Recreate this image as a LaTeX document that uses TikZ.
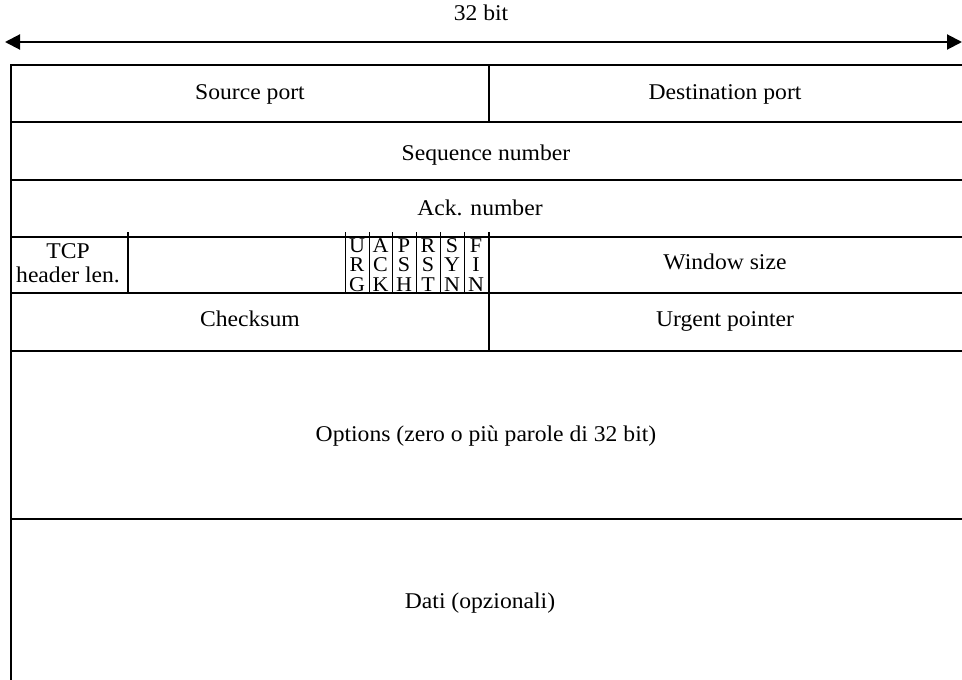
\documentclass[tikz,border=0pt]{standalone}
\usepackage{fontspec}
\setmainfont[FakeStretch=1.05]{Liberation Serif}
\usetikzlibrary{arrows.meta}

\tikzset{
	field/.style={font=\fontsize{22.5}{25}\selectfont, inner sep=0pt, text height=15pt, text depth=5pt},
	twoline/.style={font=\fontsize{22.5}{24}\selectfont, inner sep=0pt, align=center},
	flagtxt/.style={font=\fontsize{21}{19.5}\selectfont, inner sep=0pt, align=center},
	rule/.style={line width=1.3pt},
}

\begin{document}
\begin{tikzpicture}[x=1pt,y=-1pt]
	
	\clip (0,0) rectangle (962,680);
	
	\coordinate (wl) at (5,42);
	\coordinate (wr) at (962,42);
	
	\draw[line width=2pt, {Triangle[length=15pt,width=15pt]}-{Triangle[length=15pt,width=15pt]}] (wl) -- (wr);
	\node[field] (wbit) at (481,15) {32 bit};
	
	% frame
	\draw[rule] (11,700) -- (11,65) -- (990,65);
	\foreach \y in {122,180,237,293,351,519}
		\draw[rule] (11,\y) -- (990,\y);
	\draw[rule] (489,65) -- (489,122);
	\draw[rule] (489,232) -- (489,351);
	\draw[rule] (128,232) -- (128,293);
	\foreach \x in {345,369,392,416,440,464}
		\draw[line width=1pt] (\x,232) -- (\x,293);
	
	\node[field] (src) at (250,94) {Source port};
	\node[field] (dst) at (725,94) {Destination port};
	\node[field] (seq) at (486,155) {Sequence number};
	\node[field] (ack) at (480,210) {Ack. number};
	\node[twoline] (hlen) at (68,263) {TCP\\header len.};
	\node[field] (win) at (725,264) {Window size};
	\node[field] (csum) at (250,321) {Checksum};
	\node[field] (urg) at (725,321) {Urgent pointer};
	\node[field] (opts) at (486,436) {Options (zero o più parole di 32 bit)};
	\node[field] (data) at (480,603) {Dati (opzionali)};
	
	% flags
	\foreach \x/\f/\n in {357/U\\R\\G/urgf, 380.5/A\\C\\K/ackf, 404/P\\S\\H/pshf,
		428/R\\S\\T/rstf, 452/S\\Y\\N/synf, 476/F\\I\\N/finf}
		\node[flagtxt] (\n) at (\x,265) {\f};
	
\end{tikzpicture}
\end{document}
